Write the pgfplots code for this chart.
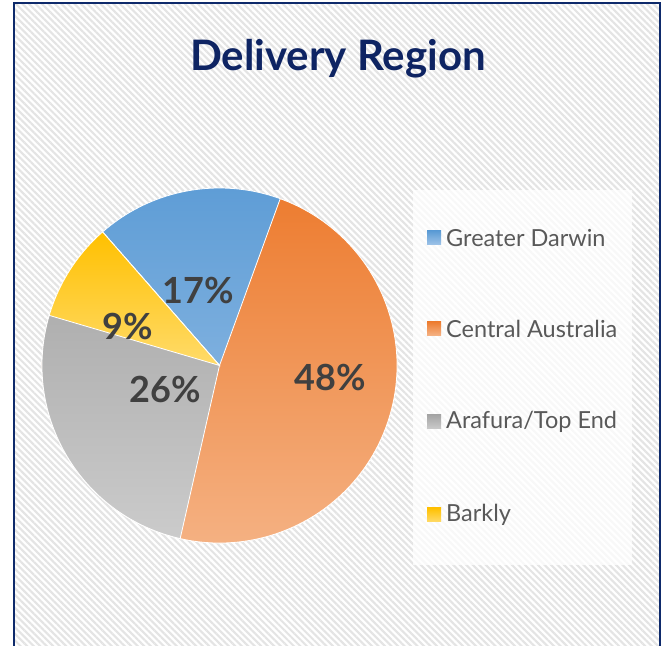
\documentclass[border=0pt]{standalone}
\usepackage{pgfplots}
\pgfplotsset{compat=1.18}
\usepackage{fontspec}
\setmainfont{Lato}
\usetikzlibrary{patterns.meta}
\definecolor{navy}{HTML}{0E2A6B}
\definecolor{titlec}{HTML}{0E2463}
\definecolor{lblc}{HTML}{404040}
\definecolor{legc}{HTML}{595959}
\definecolor{bT}{HTML}{5B9BD5}\definecolor{bB}{HTML}{A0C4E8}
\definecolor{oT}{HTML}{ED7D31}\definecolor{oB}{HTML}{F5B487}
\definecolor{gT}{HTML}{A5A5A5}\definecolor{gB}{HTML}{CBCBCB}
\definecolor{yT}{HTML}{FFC000}\definecolor{yB}{HTML}{FFDB6A}
\definecolor{hatchc}{HTML}{E4E4E4}
% values (percent)
\def\vGD{17}\def\vCA{48}\def\vAT{26}\def\vB{9}
\def\startang{131.2}
\newcommand{\slice}[4]{% start, value, top, bottom
  \pgfmathsetmacro{\endang}{#1-#2*3.6}
  \path[top color=#3,bottom color=#4,draw=white,line width=0.8pt]
    (axis cs:219.5,279.5) -- ++(#1:177.5pt) arc[start angle=#1,end angle=\endang,radius=177.5pt] -- cycle;
}
\begin{document}
\begin{tikzpicture}
\path[use as bounding box] (0,0) rectangle (666pt,645pt);
\begin{axis}[at={(0,0)},anchor=south west,scale only axis,width=666pt,height=645pt,
  xmin=0,xmax=666,ymin=0,ymax=645,hide axis,clip=true]
  % background
  \fill[white] (axis cs:14,-20) rectangle (axis cs:660,642);
  \fill[pattern={Lines[angle=-45,distance=4.6pt,line width=2.1pt]},pattern color=hatchc] (axis cs:14,-20) rectangle (axis cs:660,642);
  \draw[navy,line width=2pt] (axis cs:14,-20) rectangle (axis cs:660,642);
  % title
  \node[text=titlec,font=\bfseries\fontsize{42}{48}\selectfont] at (axis cs:338,586) {Delivery Region};
  % pie
  \pgfmathsetmacro{\aA}{\startang}
  \pgfmathsetmacro{\aB}{\aA-\vGD*3.6}
  \pgfmathsetmacro{\aC}{\aB-\vCA*3.6}
  \pgfmathsetmacro{\aD}{\aC-\vAT*3.6}
  \slice{\aA}{\vGD}{bT}{bB}
  \slice{\aB}{\vCA}{oT}{oB}
  \slice{\aC}{\vAT}{gT}{gB}
  \slice{\aD}{\vB}{yT}{yB}
  % labels
  \begin{scope}[every node/.style={text=lblc,font=\bfseries\fontsize{36}{40}\selectfont}]
  \node at (axis cs:198,354) {17\%};
  \node at (axis cs:330,267) {48\%};
  \node at (axis cs:165,255) {26\%};
  \node at (axis cs:128,318) {9\%};
  \end{scope}
  % legend
  \fill[white,opacity=0.75] (axis cs:413,80) rectangle (axis cs:632,455);
  \begin{scope}[every node/.style={text=legc,font=\fontsize{23.5}{27}\selectfont,anchor=west,inner sep=0pt}]
  \path[top color=bT,bottom color=bB] (axis cs:427,400) rectangle (axis cs:441,414);
  \node at (axis cs:446,407) {Greater Darwin};
  \path[top color=oT,bottom color=oB] (axis cs:427,309) rectangle (axis cs:441,323);
  \node at (axis cs:446,316) {Central Australia};
  \path[top color=gT,bottom color=gB] (axis cs:427,216) rectangle (axis cs:441,230);
  \node at (axis cs:446,223) {Arafura/Top End};
  \path[top color=yT,bottom color=yB] (axis cs:427,123) rectangle (axis cs:441,137);
  \node at (axis cs:446,130) {Barkly};
  \end{scope}
\end{axis}
\end{tikzpicture}
\end{document}
